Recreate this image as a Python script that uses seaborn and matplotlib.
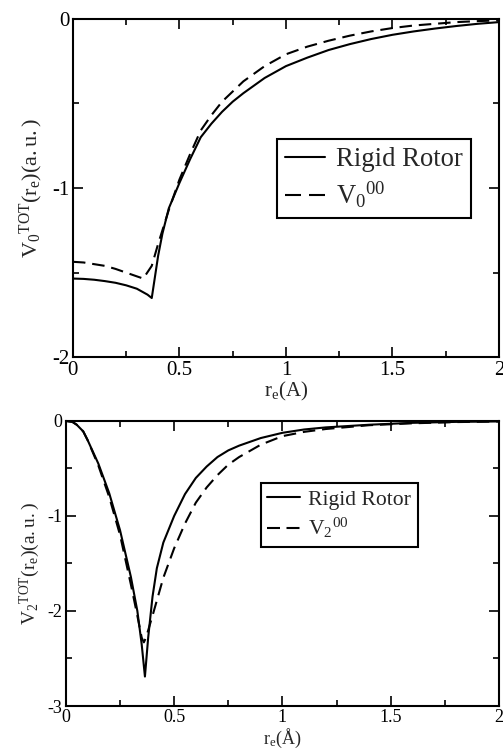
import matplotlib
matplotlib.use("Agg")
import matplotlib.pyplot as plt
from matplotlib.ticker import MultipleLocator
import seaborn as sns

# V0 total potential vs r_e
r_v0_rigid = [0.0, 0.05, 0.1, 0.15, 0.2, 0.25, 0.3, 0.35, 0.37, 0.4, 0.42, 0.45,
              0.5, 0.55, 0.6, 0.65, 0.7, 0.75, 0.8, 0.9, 1.0, 1.1, 1.2, 1.3,
              1.4, 1.5, 1.6, 1.7, 1.8, 1.9, 2.0]
v0_rigid = [-1.535, -1.537, -1.542, -1.55, -1.56, -1.575, -1.595, -1.63, -1.65,
            -1.40, -1.27, -1.12, -0.97, -0.83, -0.70, -0.62, -0.55, -0.49, -0.44,
            -0.35, -0.28, -0.23, -0.185, -0.15, -0.12, -0.095, -0.075, -0.058,
            -0.043, -0.03, -0.02]

r_v0_00 = [0.0, 0.05, 0.1, 0.15, 0.2, 0.25, 0.3, 0.33, 0.37, 0.4, 0.45, 0.5,
           0.55, 0.6, 0.65, 0.7, 0.75, 0.8, 0.9, 1.0, 1.1, 1.2, 1.3, 1.4, 1.5,
           1.6, 1.7, 1.8, 1.9, 2.0]
v0_00 = [-1.436, -1.44, -1.45, -1.46, -1.478, -1.50, -1.522, -1.535, -1.46,
         -1.33, -1.13, -0.95, -0.80, -0.66, -0.57, -0.49, -0.43, -0.37, -0.28,
         -0.21, -0.165, -0.13, -0.10, -0.075, -0.055, -0.04, -0.03, -0.02,
         -0.014, -0.01]

# V2 total potential vs r_e
r_v2_rigid = [0.0, 0.03, 0.05, 0.08, 0.1, 0.15, 0.2, 0.25, 0.3, 0.33, 0.35,
              0.365, 0.38, 0.4, 0.42, 0.45, 0.5, 0.55, 0.6, 0.65, 0.7, 0.75,
              0.8, 0.9, 1.0, 1.1, 1.2, 1.4, 1.6, 1.8, 2.0]
v2_rigid = [0.0, -0.01, -0.04, -0.11, -0.2, -0.45, -0.76, -1.15, -1.64, -2.0,
            -2.35, -2.69, -2.28, -1.85, -1.55, -1.28, -1.0, -0.77, -0.60,
            -0.48, -0.38, -0.31, -0.26, -0.18, -0.125, -0.09, -0.068, -0.04,
            -0.02, -0.01, -0.005]

r_v2_00 = [0.0, 0.03, 0.05, 0.08, 0.1, 0.15, 0.2, 0.25, 0.3, 0.33, 0.35, 0.36,
           0.37, 0.4, 0.45, 0.5, 0.55, 0.6, 0.65, 0.7, 0.75, 0.8, 0.9, 1.0,
           1.1, 1.2, 1.4, 1.6, 1.8, 2.0]
v2_00 = [0.0, -0.01, -0.04, -0.11, -0.2, -0.47, -0.8, -1.2, -1.72, -2.05,
         -2.28, -2.33, -2.28, -2.05, -1.65, -1.34, -1.08, -0.86, -0.70, -0.57,
         -0.46, -0.38, -0.25, -0.16, -0.115, -0.085, -0.045, -0.025, -0.012,
         -0.006]

x_ticks = [0, 0.5, 1, 1.5, 2]
x_ticklabels = ["0", "0.5", "1", "1.5", "2"]

sns.set_theme(style="white")
plt.rcParams.update({
    "font.family": ["Liberation Serif", "DejaVu Serif"],
    "mathtext.fontset": "custom",
    "mathtext.rm": "Liberation Serif",
    "mathtext.it": "Liberation Serif:italic",
    "mathtext.bf": "Liberation Serif:bold",
    "axes.unicode_minus": False,
    "axes.edgecolor": "black",
    "axes.linewidth": 1.5,
})

fig = plt.figure(figsize=(5.03, 7.49), dpi=100)
ax1 = fig.add_axes([0.145, 0.523, 0.847, 0.452])
ax2 = fig.add_axes([0.131, 0.0574, 0.861, 0.3806])

LW = 1.5
DASH = (6, 3.3)
HANDLE_LEN = 1.5


def draw(ax, rx, ry, dx, dy, sub, ylim, yticks, xlabel, leg_anchor, leg_size,
         tick_size, label_size, ylabelpad):
    sns.lineplot(x=rx, y=ry, ax=ax, color="black", lw=LW, estimator=None,
                 sort=False, label="Rigid Rotor")
    sns.lineplot(x=dx, y=dy, ax=ax, color="black", lw=LW, estimator=None,
                 sort=False, label=r"$\mathrm{V_{%s}{}^{00}}$" % sub)
    ax.lines[1].set_dashes(DASH)
    ax.set_xlim(0, 2)
    ax.set_ylim(*ylim)
    ax.set_xticks(x_ticks)
    ax.set_xticklabels(x_ticklabels)
    ax.set_yticks(yticks)
    ax.set_yticklabels([str(t) for t in yticks])
    ax.xaxis.set_minor_locator(MultipleLocator(0.25))
    ax.yaxis.set_minor_locator(MultipleLocator(0.5))
    ax.tick_params(which="both", direction="in", top=True, right=True,
                   bottom=True, left=True, labelsize=tick_size, pad=2.5,
                   width=1.2, colors="black")
    ax.tick_params(which="major", length=7)
    ax.tick_params(which="minor", length=4)
    for s in ax.spines.values():
        s.set_color("black")
        s.set_linewidth(1.5)
    ax.set_xlabel(xlabel, fontsize=label_size, labelpad=0.5)
    ax.set_ylabel(r"$\mathrm{V_{%s}{}^{TOT}(r_e)(a.u.)}$" % sub,
                  fontsize=label_size + 1, labelpad=ylabelpad)
    leg = ax.legend(loc="upper left", bbox_to_anchor=leg_anchor, fontsize=leg_size,
                    frameon=True, fancybox=False, edgecolor="black",
                    handlelength=HANDLE_LEN, handletextpad=0.4, borderpad=0.3,
                    labelspacing=0.3, borderaxespad=0)
    leg.get_frame().set_linewidth(1.5)
    leg.get_frame().set_alpha(1)
    # two whole dashes across the legend handle
    span = HANDLE_LEN * leg_size / LW
    leg.get_lines()[1].set_dashes((0.4 * span, 0.2 * span))


draw(ax1, r_v0_rigid, v0_rigid, r_v0_00, v0_00, "0", (-2, 0), [0, -1, -2],
     r"$\mathrm{r_e}$(A)", (0.48, 0.645), 19.2, 15, 15, 5)

draw(ax2, r_v2_rigid, v2_rigid, r_v2_00, v2_00, "2", (-3, 0), [0, -1, -2, -3],
     r"$\mathrm{r_e}$(Å)", (0.45, 0.782), 15.6, 13, 13, 4)

fig.savefig("out.png", dpi=100)
